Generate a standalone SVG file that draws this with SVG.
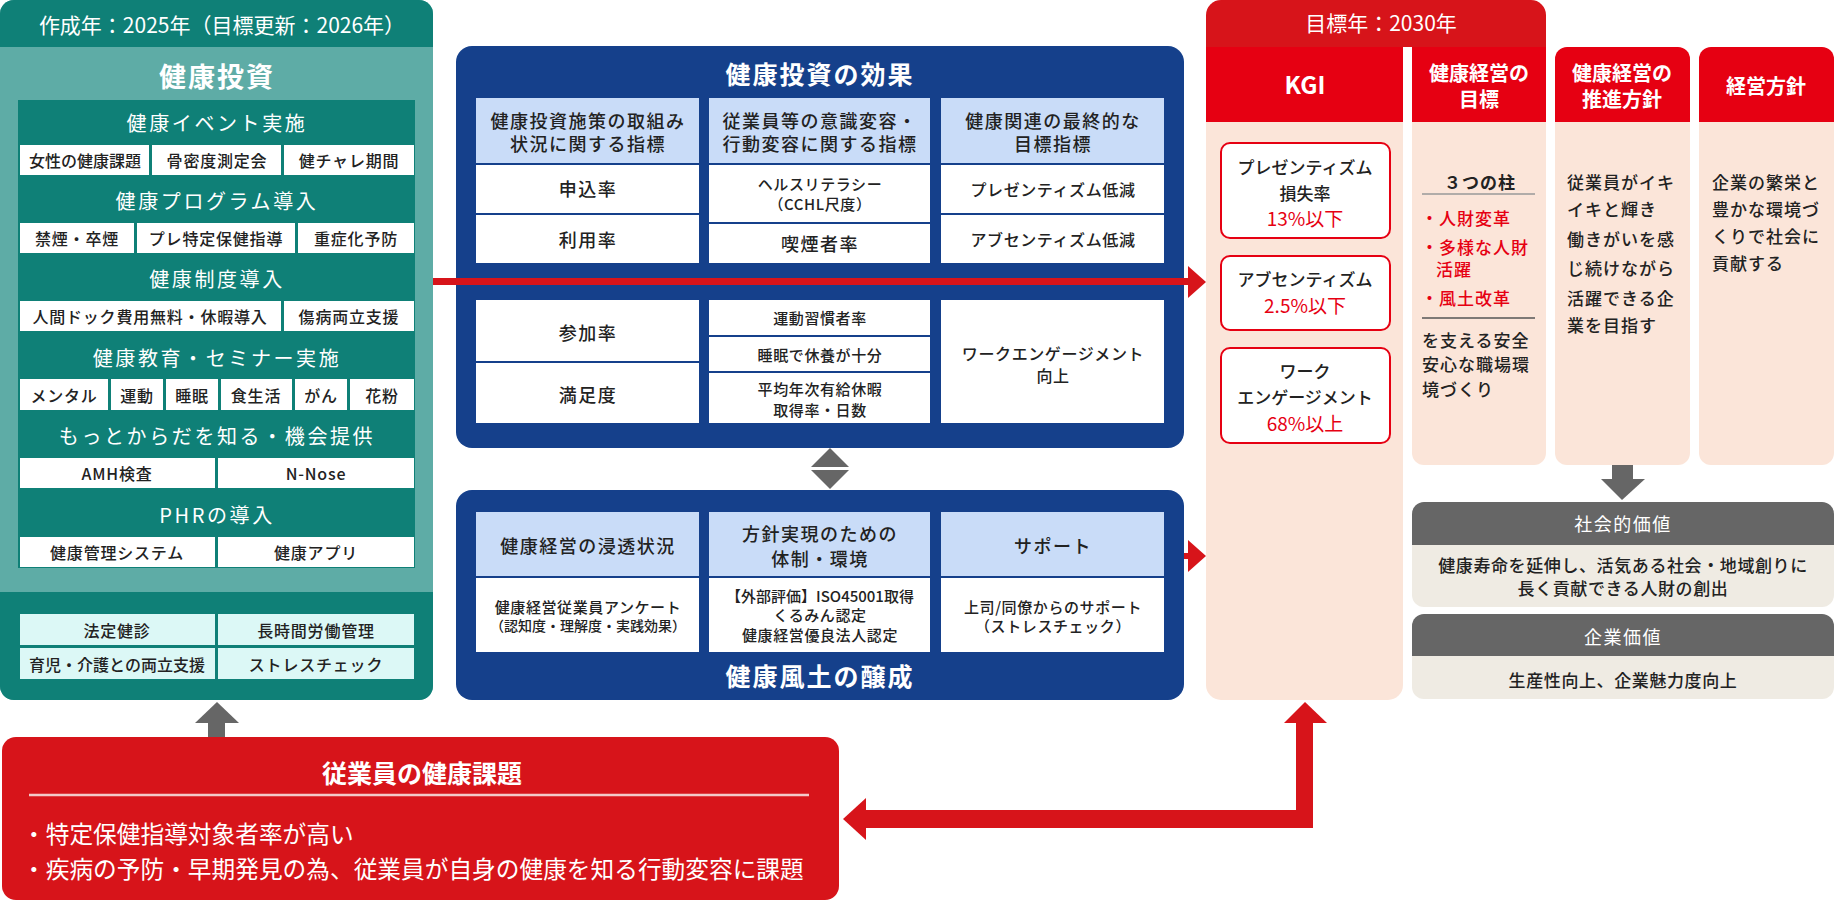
<svg xmlns="http://www.w3.org/2000/svg" width="1834" height="901" viewBox="0 0 1834 901">
<style>
text{font-family:"Noto Sans CJK JP","Noto Sans",sans-serif;dominant-baseline:central;text-anchor:middle}
.w{fill:#ffffff}
.k{fill:#222222}
.band{fill:#ffffff;font-size:20px;letter-spacing:2.6px}
.cell{fill:#222222;font-size:16px;letter-spacing:0.8px;font-weight:500}
.cellw{fill:#ffffff}
.cyan{fill:#dcf8f6}
.hd{fill:#c9dcf8}
.bt{fill:#222222;font-size:18px;letter-spacing:1.5px;font-weight:500}
.bs{fill:#222222;font-size:15px;letter-spacing:0.6px;font-weight:500}
.kgi{font-size:17px;fill:#222222;font-weight:500}
.kv{font-size:19px;fill:#e60012}
.col{font-size:17px;fill:#222222;text-anchor:start;letter-spacing:1px;font-weight:500}
.col.r{fill:#e60012}
.ch{font-size:20px;fill:#ffffff;font-weight:bold}
</style>

<!-- Left panel -->
<g id="kenko-toushi">
<rect x="0" y="0" width="433" height="700" rx="14" fill="#5eaca6"/>
<path d="M0,14 a14,14 0 0 1 14,-14 h405 a14,14 0 0 1 14,14 v33 h-433 z" fill="#0f8077"/>
<path d="M0,592 h433 v94 a14,14 0 0 1 -14,14 h-405 a14,14 0 0 1 -14,-14 z" fill="#0f8077"/>
<text x="222" y="24" class="w" style="font-size:21px">作成年：2025年（目標更新：2026年）</text>
<text x="217" y="75" class="w" style="font-size:27px;font-weight:bold;letter-spacing:2px">健康投資</text>
<rect x="18" y="100" width="397" height="468" fill="#0f8077"/>
<text x="217" y="122" class="band">健康イベント実施</text>
<rect x="20" y="145" width="129" height="30" class="cellw"/>
<rect x="152" y="145" width="129" height="30" class="cellw"/>
<rect x="284" y="145" width="130" height="30" class="cellw"/>
<text x="85" y="160" class="cell" style="letter-spacing:0">女性の健康課題</text>
<text x="217" y="160" class="cell">骨密度測定会</text>
<text x="349" y="160" class="cell">健チャレ期間</text>
<text x="217" y="200" class="band">健康プログラム導入</text>
<rect x="20" y="223" width="114" height="30" class="cellw"/>
<rect x="137" y="223" width="158" height="30" class="cellw"/>
<rect x="298" y="223" width="116" height="30" class="cellw"/>
<text x="77" y="238" class="cell">禁煙・卒煙</text>
<text x="216" y="238" class="cell">プレ特定保健指導</text>
<text x="356" y="238" class="cell">重症化予防</text>
<text x="217" y="278" class="band">健康制度導入</text>
<rect x="20" y="301" width="261" height="30" class="cellw"/>
<rect x="284" y="301" width="130" height="30" class="cellw"/>
<text x="150" y="316" class="cell">人間ドック費用無料・休暇導入</text>
<text x="349" y="316" class="cell">傷病両立支援</text>
<text x="217" y="357" class="band">健康教育・セミナー実施</text>
<rect x="20" y="379" width="88" height="31" class="cellw"/>
<rect x="111" y="379" width="52" height="31" class="cellw"/>
<rect x="166" y="379" width="52" height="31" class="cellw"/>
<rect x="221" y="379" width="71" height="31" class="cellw"/>
<rect x="295" y="379" width="52" height="31" class="cellw"/>
<rect x="350" y="379" width="64" height="31" class="cellw"/>
<text x="64" y="395" class="cell">メンタル</text>
<text x="137" y="395" class="cell">運動</text>
<text x="192" y="395" class="cell">睡眠</text>
<text x="256" y="395" class="cell">食生活</text>
<text x="321" y="395" class="cell">がん</text>
<text x="382" y="395" class="cell">花粉</text>
<text x="217" y="435" class="band">もっとからだを知る・機会提供</text>
<rect x="20" y="458" width="195" height="30" class="cellw"/>
<rect x="218" y="458" width="196" height="30" class="cellw"/>
<text x="117" y="473" class="cell">AMH検査</text>
<text x="316" y="473" class="cell">N-Nose</text>
<text x="217" y="514" class="band">PHRの導入</text>
<rect x="20" y="537" width="195" height="30" class="cellw"/>
<rect x="218" y="537" width="196" height="30" class="cellw"/>
<text x="117" y="552" class="cell">健康管理システム</text>
<text x="316" y="552" class="cell">健康アプリ</text>
<rect x="20" y="614" width="195" height="31" class="cyan"/>
<rect x="218" y="614" width="196" height="31" class="cyan"/>
<rect x="20" y="648" width="195" height="31" class="cyan"/>
<rect x="218" y="648" width="196" height="31" class="cyan"/>
<text x="117" y="630" class="cell">法定健診</text>
<text x="316" y="630" class="cell">長時間労働管理</text>
<text x="117" y="664" class="cell" style="letter-spacing:0">育児・介護との両立支援</text>
<text x="316" y="664" class="cell">ストレスチェック</text>
</g>

<!-- Blue top box -->
<g id="kouka">
<rect x="456" y="46" width="728" height="402" rx="16" fill="#15408b"/>
<text x="820" y="73" class="w" style="font-size:25px;font-weight:bold;letter-spacing:2px">健康投資の効果</text>
<rect x="476" y="98" width="223" height="65" class="hd"/>
<rect x="709" y="98" width="221" height="65" class="hd"/>
<rect x="941" y="98" width="223" height="65" class="hd"/>
<text x="588" y="120" class="bt">健康投資施策の取組み</text>
<text x="588" y="143" class="bt">状況に関する指標</text>
<text x="820" y="120" class="bt">従業員等の意識変容・</text>
<text x="820" y="143" class="bt">行動変容に関する指標</text>
<text x="1053" y="120" class="bt">健康関連の最終的な</text>
<text x="1053" y="143" class="bt">目標指標</text>
<rect x="476" y="165" width="223" height="48" class="cellw"/>
<rect x="476" y="215" width="223" height="48" class="cellw"/>
<rect x="709" y="165" width="221" height="57" class="cellw"/>
<rect x="709" y="224" width="221" height="39" class="cellw"/>
<rect x="941" y="165" width="223" height="48" class="cellw"/>
<rect x="941" y="215" width="223" height="48" class="cellw"/>
<text x="588" y="188" class="bt">申込率</text>
<text x="588" y="239" class="bt">利用率</text>
<text x="820" y="183" class="bs">ヘルスリテラシー</text>
<text x="820" y="203" class="bs">（CCHL尺度）</text>
<text x="820" y="243" class="bt">喫煙者率</text>
<text x="1053" y="189" class="bs" style="font-size:16px">プレゼンティズム低減</text>
<text x="1053" y="239" class="bs" style="font-size:16px">アブセンティズム低減</text>
<rect x="476" y="300" width="223" height="61" class="cellw"/>
<rect x="476" y="363" width="223" height="60" class="cellw"/>
<rect x="709" y="300" width="221" height="35" class="cellw"/>
<rect x="709" y="337" width="221" height="34" class="cellw"/>
<rect x="709" y="373" width="221" height="50" class="cellw"/>
<rect x="941" y="300" width="223" height="123" class="cellw"/>
<text x="588" y="332" class="bt">参加率</text>
<text x="588" y="394" class="bt">満足度</text>
<text x="820" y="317" class="bs">運動習慣者率</text>
<text x="820" y="354" class="bs">睡眠で休養が十分</text>
<text x="820" y="388" class="bs">平均年次有給休暇</text>
<text x="820" y="409" class="bs">取得率・日数</text>
<text x="1053" y="353" class="bs" style="font-size:16px">ワークエンゲージメント</text>
<text x="1053" y="375" class="bs" style="font-size:16px">向上</text>
</g>

<!-- Blue bottom box -->
<g id="fudo">
<rect x="456" y="490" width="728" height="210" rx="16" fill="#15408b"/>
<rect x="476" y="512" width="223" height="64" class="hd"/>
<rect x="709" y="512" width="221" height="64" class="hd"/>
<rect x="941" y="512" width="223" height="64" class="hd"/>
<text x="588" y="545" class="bt">健康経営の浸透状況</text>
<text x="820" y="533" class="bt">方針実現のための</text>
<text x="820" y="558" class="bt">体制・環境</text>
<text x="1053" y="545" class="bt">サポート</text>
<rect x="476" y="578" width="223" height="74" class="cellw"/>
<rect x="709" y="578" width="221" height="74" class="cellw"/>
<rect x="941" y="578" width="223" height="74" class="cellw"/>
<text x="588" y="606" class="bs">健康経営従業員アンケート</text>
<text x="588" y="625" class="bs" style="font-size:14px;letter-spacing:0">（認知度・理解度・実践効果）</text>
<text x="820" y="595" class="bs" style="letter-spacing:0">【外部評価】ISO45001取得</text>
<text x="820" y="614" class="bs">くるみん認定</text>
<text x="820" y="634" class="bs">健康経営優良法人認定</text>
<text x="1053" y="606" class="bs">上司/同僚からのサポート</text>
<text x="1053" y="625" class="bs">（ストレスチェック）</text>
<text x="820" y="675" class="w" style="font-size:25px;font-weight:bold;letter-spacing:2px">健康風土の醸成</text>
</g>

<!-- Employee health issue box -->
<g id="kadai">
<rect x="2" y="737" width="837" height="163" rx="14" fill="#d7141a"/>
<text x="422" y="772" class="w" style="font-size:25px;font-weight:bold">従業員の健康課題</text>
<line x1="29" y1="795" x2="809" y2="795" stroke="#f3c9c9" stroke-width="2.5"/>
<text x="22" y="833" class="w" style="font-size:23.7px;text-anchor:start">・特定保健指導対象者率が高い</text>
<text x="22" y="868" class="w" style="font-size:23.7px;text-anchor:start">・疾病の予防・早期発見の為、従業員が自身の健康を知る行動変容に課題</text>
</g>

<!-- KGI column -->
<g id="kgi">
<path d="M1206,15 a15,15 0 0 1 15,-15 h310 a15,15 0 0 1 15,15 v32 h-340 z" fill="#d7141a"/>
<text x="1381" y="22" class="w" style="font-size:21px">目標年：2030年</text>
<rect x="1206" y="47" width="197" height="75" fill="#e60012"/>
<text x="1305" y="83" class="w" style="font-size:24px;font-weight:bold">KGI</text>
<path d="M1206,122 h197 v563 a15,15 0 0 1 -15,15 h-167 a15,15 0 0 1 -15,-15 z" fill="#fbe5d9"/>
<rect x="1221" y="143" width="169" height="95" rx="9" fill="#ffffff" stroke="#e60012" stroke-width="2"/>
<text x="1305" y="166" class="kgi">プレゼンティズム</text>
<text x="1305" y="192" class="kgi">損失率</text>
<text x="1305" y="217" class="kv">13%以下</text>
<rect x="1221" y="256" width="169" height="74" rx="9" fill="#ffffff" stroke="#e60012" stroke-width="2"/>
<text x="1305" y="278" class="kgi">アブセンティズム</text>
<text x="1305" y="304" class="kv">2.5%以下</text>
<rect x="1221" y="348" width="169" height="95" rx="9" fill="#ffffff" stroke="#e60012" stroke-width="2"/>
<text x="1305" y="370" class="kgi">ワーク</text>
<text x="1305" y="396" class="kgi">エンゲージメント</text>
<text x="1305" y="422" class="kv">68%以上</text>
</g>

<!-- Goal column -->
<g id="mokuhyo">
<rect x="1412" y="47" width="134" height="75" fill="#e60012"/>
<text x="1479" y="72" class="ch">健康経営の</text>
<text x="1479" y="98" class="ch">目標</text>
<path d="M1412,122 h134 v331 a12,12 0 0 1 -12,12 h-110 a12,12 0 0 1 -12,-12 z" fill="#fbe5d9"/>
<text x="1480" y="181" class="k" style="font-size:17px;font-weight:bold;letter-spacing:1px">３つの柱</text>
<line x1="1422" y1="194" x2="1535" y2="194" stroke="#999999" stroke-width="1.5"/>
<text x="1421" y="217" class="col r">・人財変革</text>
<text x="1421" y="246" class="col r">・多様な人財</text>
<text x="1436" y="268" class="col r">活躍</text>
<text x="1421" y="297" class="col r">・風土改革</text>
<line x1="1422" y1="318" x2="1535" y2="318" stroke="#555555" stroke-width="1.5"/>
<text x="1422" y="339" class="col">を支える安全</text>
<text x="1422" y="363" class="col">安心な職場環</text>
<text x="1422" y="388" class="col">境づくり</text>
</g>

<!-- Promotion policy column -->
<g id="suishin">
<path d="M1555,59 a12,12 0 0 1 12,-12 h111 a12,12 0 0 1 12,12 v63 h-135 z" fill="#e60012"/>
<text x="1622" y="72" class="ch">健康経営の</text>
<text x="1622" y="98" class="ch">推進方針</text>
<path d="M1555,122 h135 v331 a12,12 0 0 1 -12,12 h-111 a12,12 0 0 1 -12,-12 z" fill="#fbe5d9"/>
<text x="1567" y="181" class="col">従業員がイキ</text>
<text x="1567" y="208" class="col">イキと輝き</text>
<text x="1567" y="238" class="col">働きがいを感</text>
<text x="1567" y="267" class="col">じ続けながら</text>
<text x="1567" y="297" class="col">活躍できる企</text>
<text x="1567" y="324" class="col">業を目指す</text>
</g>

<!-- Management policy column -->
<g id="keiei">
<path d="M1699,59 a12,12 0 0 1 12,-12 h111 a12,12 0 0 1 12,12 v63 h-135 z" fill="#e60012"/>
<text x="1766" y="85" class="ch">経営方針</text>
<path d="M1699,122 h135 v331 a12,12 0 0 1 -12,12 h-111 a12,12 0 0 1 -12,-12 z" fill="#fbe5d9"/>
<text x="1712" y="181" class="col">企業の繁栄と</text>
<text x="1712" y="208" class="col">豊かな環境づ</text>
<text x="1712" y="235" class="col">くりで社会に</text>
<text x="1712" y="262" class="col">貢献する</text>
</g>

<!-- Social value -->
<g id="shakai">
<path d="M1412,514 a12,12 0 0 1 12,-12 h398 a12,12 0 0 1 12,12 v31 h-422 z" fill="#666666"/>
<path d="M1412,545 h422 v50 a12,12 0 0 1 -12,12 h-398 a12,12 0 0 1 -12,-12 z" fill="#efebe3"/>
<text x="1623" y="523" class="w" style="font-size:18px;letter-spacing:1.5px">社会的価値</text>
<text x="1623" y="564" class="k" style="font-size:17px;letter-spacing:0.6px;font-weight:500">健康寿命を延伸し、活気ある社会・地域創りに</text>
<text x="1623" y="587" class="k" style="font-size:17px;letter-spacing:0.6px;font-weight:500">長く貢献できる人財の創出</text>
</g>

<!-- Corporate value -->
<g id="kigyo">
<path d="M1412,626 a12,12 0 0 1 12,-12 h398 a12,12 0 0 1 12,12 v30 h-422 z" fill="#666666"/>
<path d="M1412,656 h422 v31 a12,12 0 0 1 -12,12 h-398 a12,12 0 0 1 -12,-12 z" fill="#efebe3"/>
<text x="1623" y="636" class="w" style="font-size:18px;letter-spacing:1.5px">企業価値</text>
<text x="1623" y="679" class="k" style="font-size:17px;letter-spacing:0.6px;font-weight:500">生産性向上、企業魅力度向上</text>
</g>

<!-- Connectors -->
<g id="connectors">
<rect x="433" y="278" width="757" height="7" fill="#d7141a"/>
<polygon points="1188,266 1206,282 1188,298" fill="#d7141a"/>
<rect x="1184" y="553" width="6" height="6" fill="#d7141a"/>
<polygon points="1188,540 1206,556 1188,572" fill="#d7141a"/>
<polygon points="830,448 811,467 849,467" fill="#666666"/>
<polygon points="811,470 849,470 830,489" fill="#666666"/>
<rect x="208" y="722" width="17" height="15" fill="#666666"/>
<polygon points="217,702 195,723 239,723" fill="#666666"/>
<rect x="1612" y="465" width="21" height="15" fill="#666666"/>
<polygon points="1601,479 1645,479 1622,500" fill="#666666"/>
<path d="M1296,722 v88 h-431 v18 h448 v-106 z" fill="#d7141a"/>
<polygon points="1305,702 1284,723 1327,723" fill="#d7141a"/>
<polygon points="843,819 866,798 866,840" fill="#d7141a"/>
</g>
</svg>
